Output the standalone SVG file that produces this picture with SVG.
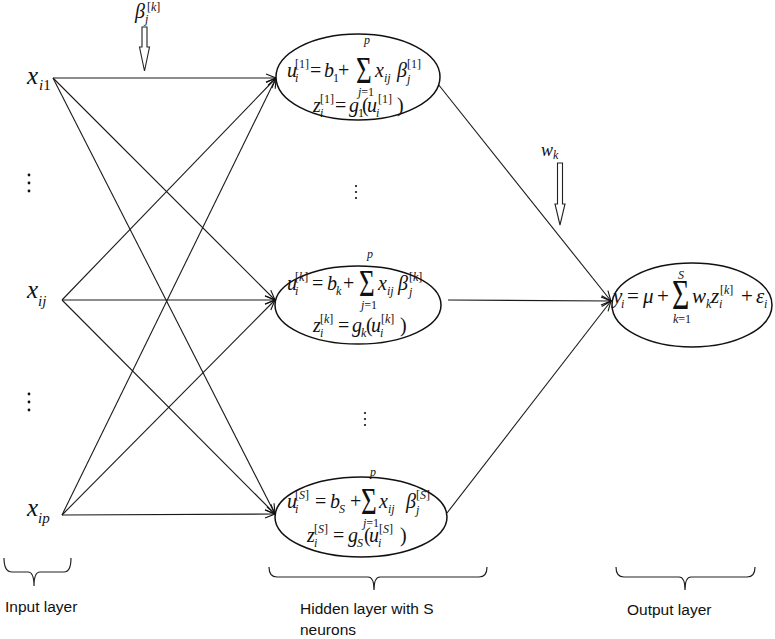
<svg xmlns="http://www.w3.org/2000/svg" width="775" height="639" viewBox="0 0 775 639">
<defs>
<style>
.bg{fill:#fff}
.ell{fill:#fff;stroke:#111;stroke-width:1.5}
.edge{fill:none;stroke:#1a1a1a;stroke-width:1.1}
.brace{fill:none;stroke:#222;stroke-width:1.2}
.hollow{fill:#fff;stroke:#222;stroke-width:1.1}
.dot{fill:#111}
.m,.r,.s,.su,.sig,.om,.or,.osig,.in,.ins,.w{font-family:'Liberation Serif','Times New Roman',serif;fill:#111}
.m{font-size:20px;font-style:italic}
.r{font-size:20px}
.s{font-size:12px;font-style:italic}
.su{font-size:12px}
.sig{font-size:30px}
.om{font-size:21px;font-style:italic}
.or{font-size:21px}
.osig{font-size:33px}
.w{font-size:18px;font-style:italic}
.in{font-size:25px;font-style:italic}
.ins{font-size:15px;font-style:italic}
.up{font-style:normal}
.it{font-style:italic}
.lbl{font-family:'Liberation Sans',Arial,sans-serif;font-size:15.5px;fill:#111}
</style>
<marker id="ah" markerWidth="12" markerHeight="10" refX="11" refY="5" orient="auto" markerUnits="userSpaceOnUse">
<path d="M1,1 L11,5 L1,9" fill="none" stroke="#111" stroke-width="1.1"/>
</marker>
</defs>
<rect class="bg" x="0" y="0" width="775" height="639"/>

<g id="connectors">
<line class="edge" x1="53" y1="78" x2="276" y2="78" marker-end="url(#ah)"/>
<line class="edge" x1="53" y1="78" x2="275" y2="300" marker-end="url(#ah)"/>
<line class="edge" x1="53" y1="78" x2="275" y2="514" marker-end="url(#ah)"/>
<line class="edge" x1="62" y1="300" x2="276" y2="78" marker-end="url(#ah)"/>
<line class="edge" x1="62" y1="300" x2="275" y2="300" marker-end="url(#ah)"/>
<line class="edge" x1="62" y1="300" x2="275" y2="514" marker-end="url(#ah)"/>
<line class="edge" x1="62" y1="515" x2="276" y2="78" marker-end="url(#ah)"/>
<line class="edge" x1="62" y1="515" x2="275" y2="300" marker-end="url(#ah)"/>
<line class="edge" x1="62" y1="515" x2="275" y2="514" marker-end="url(#ah)"/>
<line class="edge" x1="438" y1="84" x2="611" y2="301" marker-end="url(#ah)"/>
<line class="edge" x1="448" y1="300" x2="611" y2="301" marker-end="url(#ah)"/>
<line class="edge" x1="447" y1="513" x2="611" y2="301" marker-end="url(#ah)"/>
</g>

<g id="input-1">
<text class="in" x="27" y="84">x</text>
<text class="ins" x="39" y="90">i<tspan class="up">1</tspan></text>
</g>
<g id="input-j">
<text class="in" x="27" y="298">x</text>
<text class="ins" x="38" y="306">ij</text>
</g>
<g id="input-p">
<text class="in" x="27" y="516">x</text>
<text class="ins" x="38" y="523">ip</text>
</g>
<g id="input-dots">
<circle class="dot" cx="29" cy="175" r="1.4"/>
<circle class="dot" cx="29" cy="183" r="1.4"/>
<circle class="dot" cx="29" cy="191" r="1.4"/>
<circle class="dot" cx="29" cy="394" r="1.4"/>
<circle class="dot" cx="29" cy="402" r="1.4"/>
<circle class="dot" cx="29" cy="410" r="1.4"/>
</g>

<g id="beta-weight">
<polygon class="hollow" points="142,27 147,27 147,47 149.5,47 144.5,71 139.5,47 142,47"/>
<text class="m" x="135" y="18">β</text>
<text class="s" x="145" y="23">j</text>
<text class="su" x="147" y="11">[<tspan class="it">k</tspan>]</text>
</g>

<g id="hidden-1">
<ellipse class="ell" cx="358" cy="77" rx="82" ry="43"/>
<text class="m" x="287" y="77">u</text>
<text class="s" x="295" y="82">i</text>
<text class="su" x="295" y="68">[1]</text>
<text class="r" x="310" y="77">=</text>
<text class="m" x="324" y="77">b</text>
<text class="su" x="333" y="82">1</text>
<text class="r" x="338" y="77">+</text>
<text class="sig" transform="translate(356,83) scale(0.9,1.25)">Σ</text>
<text class="s" x="364" y="44">p</text>
<text class="su" x="358" y="96"><tspan class="it">j</tspan>=1</text>
<text class="m" x="375" y="77">x</text>
<text class="s" x="384" y="82">ij</text>
<text class="m" x="397" y="77">β</text>
<text class="su" x="407" y="68">[1]</text>
<text class="s" x="407" y="83">j</text>
<text class="m" x="313" y="112">z</text>
<text class="s" x="320" y="117">i</text>
<text class="su" x="320" y="103">[1]</text>
<text class="r" x="335" y="112">=</text>
<text class="m" x="349" y="112">g</text>
<text class="su" x="358" y="117">1</text>
<text class="r" x="362" y="112">(</text>
<text class="m" x="367" y="112">u</text>
<text class="s" x="376" y="117">i</text>
<text class="su" x="378" y="103">[1]</text>
<text class="r" x="397" y="112">)</text>
</g>

<g id="hidden-dots">
<circle class="dot" cx="356" cy="186" r="1.1"/>
<circle class="dot" cx="356" cy="192" r="1.1"/>
<circle class="dot" cx="356" cy="198" r="1.1"/>
<circle class="dot" cx="365" cy="413" r="1.1"/>
<circle class="dot" cx="365" cy="419" r="1.1"/>
<circle class="dot" cx="365" cy="425" r="1.1"/>
</g>

<g id="hidden-k">
<ellipse class="ell" cx="358" cy="305" rx="83" ry="39"/>
<text class="m" x="287" y="290">u</text>
<text class="s" x="295" y="295">i</text>
<text class="su" x="295" y="281">[<tspan class="it">k</tspan>]</text>
<text class="r" x="312" y="290">=</text>
<text class="m" x="327" y="290">b</text>
<text class="s" x="336" y="295">k</text>
<text class="r" x="343" y="290">+</text>
<text class="sig" transform="translate(359,296) scale(0.9,1.25)">Σ</text>
<text class="s" x="367" y="258">p</text>
<text class="su" x="361" y="309"><tspan class="it">j</tspan>=1</text>
<text class="m" x="378" y="290">x</text>
<text class="s" x="387" y="295">ij</text>
<text class="m" x="398" y="290">β</text>
<text class="su" x="409" y="281">[<tspan class="it">k</tspan>]</text>
<text class="s" x="409" y="296">j</text>
<text class="m" x="313" y="332">z</text>
<text class="s" x="320" y="337">i</text>
<text class="su" x="320" y="323">[<tspan class="it">k</tspan>]</text>
<text class="r" x="338" y="332">=</text>
<text class="m" x="352" y="332">g</text>
<text class="s" x="361" y="337">k</text>
<text class="r" x="366" y="332">(</text>
<text class="m" x="371" y="332">u</text>
<text class="s" x="380" y="337">i</text>
<text class="su" x="381" y="323">[<tspan class="it">k</tspan>]</text>
<text class="r" x="400" y="332">)</text>
</g>

<g id="hidden-S">
<ellipse class="ell" cx="361" cy="517" rx="86" ry="40"/>
<text class="m" x="287" y="508">u</text>
<text class="s" x="295" y="513">i</text>
<text class="su" x="295" y="499">[<tspan class="it">S</tspan>]</text>
<text class="r" x="315" y="508">=</text>
<text class="m" x="330" y="508">b</text>
<text class="s" x="339" y="513">S</text>
<text class="r" x="350" y="508">+</text>
<text class="sig" transform="translate(361,514) scale(0.9,1.25)">Σ</text>
<text class="s" x="370" y="476">p</text>
<text class="su" x="363" y="527"><tspan class="it">j</tspan>=1</text>
<text class="m" x="379" y="508">x</text>
<text class="s" x="388" y="513">ij</text>
<text class="m" x="406" y="508">β</text>
<text class="su" x="416" y="499">[<tspan class="it">S</tspan>]</text>
<text class="s" x="416" y="514">j</text>
<text class="m" x="307" y="542">z</text>
<text class="s" x="314" y="547">i</text>
<text class="su" x="314" y="533">[<tspan class="it">S</tspan>]</text>
<text class="r" x="333" y="542">=</text>
<text class="m" x="348" y="542">g</text>
<text class="s" x="357" y="547">S</text>
<text class="r" x="364" y="542">(</text>
<text class="m" x="369" y="542">u</text>
<text class="s" x="378" y="547">i</text>
<text class="su" x="379" y="533">[<tspan class="it">S</tspan>]</text>
<text class="r" x="400" y="542">)</text>
</g>

<g id="w-weight">
<polygon class="hollow" points="557.5,163 562.5,163 562.5,204 565,204 560,225 555,204 557.5,204"/>
<text class="w" x="541" y="156">w</text>
<text class="s" x="553" y="159">k</text>
</g>

<g id="output">
<ellipse class="ell" cx="692" cy="305" rx="80" ry="42"/>
<text class="om" x="613" y="303">y</text>
<text class="s" x="621" y="308">i</text>
<text class="or" x="627" y="303">=</text>
<text class="om" x="643" y="303">μ</text>
<text class="or" x="657" y="303">+</text>
<text class="osig" transform="translate(672,309) scale(0.9,1.25)">Σ</text>
<text class="s" x="678" y="279">S</text>
<text class="su" x="673" y="323"><tspan class="it">k</tspan>=1</text>
<text class="om" x="692" y="303">w</text>
<text class="s" x="706" y="308">k</text>
<text class="om" x="711" y="303">z</text>
<text class="s" x="719" y="308">i</text>
<text class="su" x="720" y="294">[<tspan class="it">k</tspan>]</text>
<text class="or" x="741" y="303">+</text>
<text class="om" x="756" y="303">ε</text>
<text class="s" x="764" y="308">i</text>
</g>

<g id="layer-labels">
<path class="brace" d="M4,558 Q4,572 12,572 L28,572 Q34,572 34,586 Q34,572 40,572 L64,572 Q71,572 71,558"/>
<text class="lbl" x="5" y="612">Input layer</text>
<path class="brace" d="M269,567 Q269,577 277,577 L368,577 Q374,577 374,590 Q374,577 380,577 L479,577 Q487,577 487,567"/>
<text class="lbl" x="300" y="614">Hidden layer with S</text>
<text class="lbl" x="300" y="635">neurons</text>
<path class="brace" d="M616,567 Q616,577 624,577 L679,577 Q685,577 685,590 Q685,577 691,577 L747,577 Q755,577 755,567"/>
<text class="lbl" x="627" y="615">Output layer</text>
</g>
</svg>
